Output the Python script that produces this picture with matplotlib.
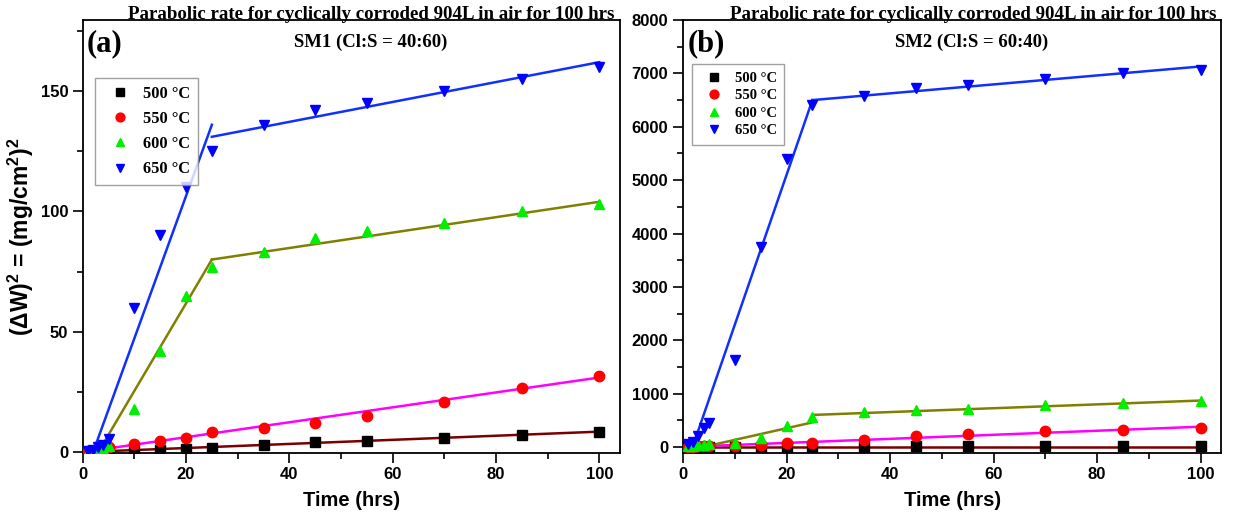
import numpy as np
import matplotlib
matplotlib.use("Agg")
import matplotlib.pyplot as plt
from matplotlib.ticker import MultipleLocator

plt.rcParams['font.family'] = ['Liberation Sans', 'DejaVu Sans']
plt.rcParams['font.weight'] = 'bold'
plt.rcParams['mathtext.fontset'] = 'custom'
plt.rcParams['mathtext.rm'] = 'Liberation Sans:bold'
plt.rcParams['mathtext.it'] = 'Liberation Sans:bold'
plt.rcParams['mathtext.bf'] = 'Liberation Sans:bold'

# time points (hrs)
t = [1, 2, 3, 4, 5, 10, 15, 20, 25, 35, 45, 55, 70, 85, 100]
labels = ['500 °C', '550 °C', '600 °C', '650 °C']

# panel (a) SM1 (Cl:S = 40:60)
a_500 = [0.1, 0.2, 0.2, 0.3, 0.4, 0.4, 0.8, 1.2, 1.8, 2.8, 4.0, 4.5, 5.7, 7.0, 8.5]
a_550 = [0.3, 0.6, 1.0, 1.5, 2.0, 3.5, 4.5, 6.0, 8.5, 10.0, 12.0, 15.0, 21.0, 26.5, 31.5]
a_600 = [0.2, 0.5, 1.0, 1.5, 2.5, 18.0, 42.0, 65.0, 77.0, 83.0, 89.0, 92.0, 95.0, 100.0, 103.0]
a_650 = [0.3, 0.8, 2.0, 3.0, 5.5, 60.0, 90.0, 110.0, 125.0, 136.0, 142.0, 145.0, 150.0, 155.0, 160.0]

# fitted segments (x, y) for panel (a)
a_fits = [
    ([0, 100], [0, 8.5]),
    ([0, 100], [0, 31]),
    ([3, 25, 25, 100], [0, 80, 80, 104]),
    ([2, 25, 25, 100], [0, 136, 131, 162]),
]

# panel (b) SM2 (Cl:S = 60:40)
b_500 = [0, 0, 0, 0, 0, 0, 0, 0, 0, 0, 10, 15, 15, 15, 15]
b_550 = [5, 5, 10, 10, 15, 20, 30, 70, 80, 130, 200, 240, 300, 320, 360]
b_600 = [20, 20, 30, 40, 50, 80, 170, 400, 570, 660, 700, 720, 790, 820, 870]
b_650 = [50, 100, 200, 350, 450, 1630, 3750, 5400, 6400, 6580, 6730, 6780, 6900, 7000, 7060]

b_fits = [
    ([0, 100], [0, 0]),
    ([0, 100], [0, 380]),
    ([3, 25, 25, 100], [-20, 460, 600, 870]),
    ([1.5, 25, 25, 100], [-100, 6500, 6500, 7130]),
]

markers = ['s', 'o', '^', 'v']
mcolors = ['black', 'red', '#00ee00', 'blue']
lcolors = ['#7a0000', '#ff00ff', '#808000', '#1030ff']

serif = ['Liberation Serif', 'DejaVu Serif']


def draw_panel(ax, series, fits, tag, sub, ylim, ymaj, ymin, leg_size, leg_space, leg_pos):
    for (fx, fy), lc in zip(fits, lcolors):
        fx = np.array(fx)
        fy = np.array(fy)
        for k in range(0, len(fx), 2):
            ax.plot(fx[k:k + 2], fy[k:k + 2], color=lc, lw=1.8, zorder=2)
    for vals, m, c, lab in zip(series, markers, mcolors, labels):
        ax.plot(t, vals, ls='none', marker=m, color=c, ms=7.5, label=lab, zorder=3)
    ax.set_xlim(0, 104)
    ax.set_ylim(*ylim)
    ax.xaxis.set_major_locator(MultipleLocator(20))
    ax.xaxis.set_minor_locator(MultipleLocator(10))
    ax.yaxis.set_major_locator(MultipleLocator(ymaj))
    ax.yaxis.set_minor_locator(MultipleLocator(ymin))
    ax.tick_params(which='both', direction='out', top=False, right=False, labelsize=12, width=1.2)
    ax.tick_params(which='major', length=7)
    ax.tick_params(which='minor', length=4)
    for s in ax.spines.values():
        s.set_linewidth(1.3)
    ax.set_xlabel('Time (hrs)', fontsize=14.5, fontweight='bold', labelpad=6)
    ax.text(0.99, 1.002, 'Parabolic rate for cyclically corroded 904L in air for 100 hrs',
            transform=ax.transAxes, ha='right', va='baseline', family=serif,
            fontsize=13.6, fontweight='bold')
    ax.text(0.008, 0.978, tag, transform=ax.transAxes, ha='left', va='top',
            family=serif, fontsize=22, fontweight='bold')
    ax.text(0.536, 0.968, sub, transform=ax.transAxes, ha='center', va='top',
            family=serif, fontsize=13.5, fontweight='bold')
    leg = ax.legend(loc='upper left', bbox_to_anchor=leg_pos,
                    prop={'family': serif, 'weight': 'bold', 'size': leg_size},
                    frameon=True, fancybox=False, edgecolor='#888888',
                    handletextpad=0.4, borderpad=0.5, labelspacing=leg_space,
                    markerscale=0.85)
    leg.get_frame().set_linewidth(1.0)


fig = plt.figure(figsize=(12.35, 5.14), dpi=100)
ax1 = fig.add_axes([0.067, 0.119, 0.435, 0.842])
ax2 = fig.add_axes([0.553, 0.119, 0.436, 0.842])

draw_panel(ax1, [a_500, a_550, a_600, a_650], a_fits, '(a)', 'SM1 (Cl:S = 40:60)',
           (-0.3, 179.5), 50, 25, 11.8, 0.55, (0.008, 0.885))
draw_panel(ax2, [b_500, b_550, b_600, b_650], b_fits, '(b)', 'SM2 (Cl:S = 60:40)',
           (-110, 8000), 1000, 500, 10.5, 0.3, (0.004, 0.915))

ax1.set_ylabel(r'(ΔW)$^2$ = (mg/cm$^2$)$^2$', fontsize=16.5,
               fontweight='bold', labelpad=3)

fig.savefig('out.png', dpi=100)
